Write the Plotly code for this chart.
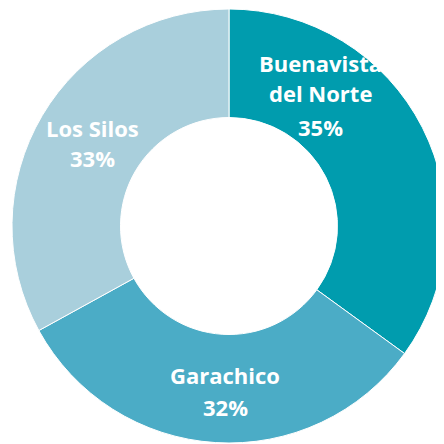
import plotly.graph_objects as go

labels = ["Buenavista del Norte", "Garachico", "Los Silos"]
values = [35, 32, 33]
colors = ["#009CAE", "#4BACC6", "#A9CFDC"]

# label lines per slice
label_lines = [["Buenavista", "del Norte", "35%"], ["Garachico", "32%"], ["Los Silos", "33%"]]

W = H = 444
OFF = 8  # page body margin offset
# label centres in page pixels
label_pos = [(320, [62.5, 93.5, 126.5]), (225, [375, 406.5]), (92, [128.5, 158.5])]

fig = go.Figure(go.Pie(
    labels=labels,
    values=values,
    marker=dict(colors=colors, line=dict(color="white", width=1)),
    hole=0.5,
    sort=False,
    direction="clockwise",
    rotation=0,
    textinfo="none",
    hoverinfo="label+percent",
    showlegend=False,
    domain=dict(x=[4 / W, 438 / W], y=[9 / H, 443 / H]),
))

annotations = []
for lines, (xc, ys) in zip(label_lines, label_pos):
    for line, yc in zip(lines, ys):
        annotations.append(dict(
            text="<b>" + line + "</b>",
            x=(xc - OFF) / W, y=1 - (yc - OFF) / H, xref="paper", yref="paper",
            showarrow=False, xanchor="center", yanchor="middle",
            font=dict(family="Open Sans", size=22, color="white"),
        ))

fig.update_layout(
    width=W, height=H,
    margin=dict(l=0, r=0, t=0, b=0),
    paper_bgcolor="white",
    plot_bgcolor="white",
    annotations=annotations,
)

fig.write_html("out.html")
